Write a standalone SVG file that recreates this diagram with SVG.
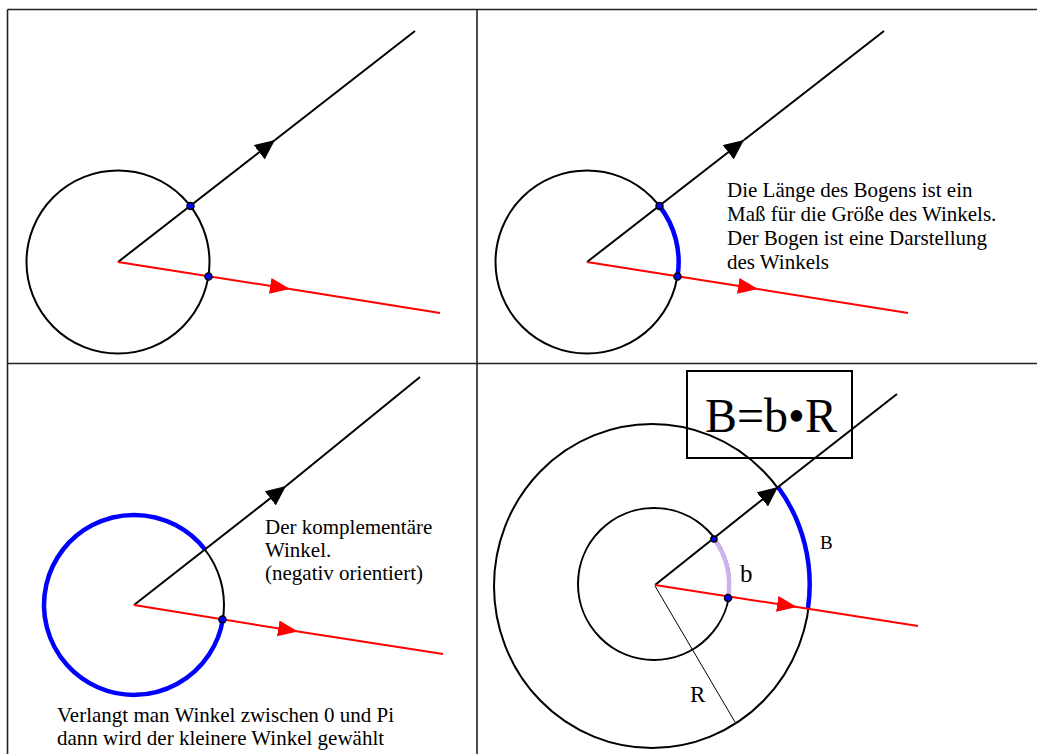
<svg xmlns="http://www.w3.org/2000/svg" width="1037" height="754" viewBox="0 0 1037 754">
<style>
.frame{stroke:#222;stroke-width:1.6;fill:none}
.ray{stroke:#000;stroke-width:2;fill:none}
.red{stroke:#ff0000;stroke-width:2;fill:none}
.circ{stroke:#000;stroke-width:2;fill:none}
.blue{stroke:#0000ff;stroke-width:4.5;fill:none}
.lila{stroke:#cbb2f0;stroke-width:4.5;fill:none}
.dot{fill:#0000ff;stroke:#000;stroke-width:1.5}
.txt{font-family:"Liberation Serif","Times New Roman",serif;font-size:21px;fill:#000}
.thin{stroke:#000;stroke-width:1;fill:none}
</style>
<defs>
<marker id="ahB" markerUnits="userSpaceOnUse" viewBox="0 0 22 18" markerWidth="22" markerHeight="18" refX="20" refY="9" orient="auto"><path d="M0,0 L20,9 L0,18 z" fill="#000"/></marker>
<marker id="ahR" markerUnits="userSpaceOnUse" viewBox="0 0 22 18" markerWidth="22" markerHeight="18" refX="20" refY="9" orient="auto"><path d="M0,1 L20,9 L0,17 z" fill="#ff0000"/></marker>
</defs>
<rect width="1037" height="754" fill="#fff"/>
<g id="table">
<line class="frame" x1="7.5" y1="9.5" x2="1037" y2="9.5"/>
<line class="frame" x1="7.5" y1="9.5" x2="7.5" y2="754"/>
<line class="frame" x1="477" y1="9.5" x2="477" y2="754"/>
<line class="frame" x1="7.5" y1="363.5" x2="1037" y2="363.5"/>
</g>
<g id="panel-top-left">
<circle class="circ" cx="118" cy="262" r="91.5"/>
<line class="ray" x1="118" y1="262" x2="275" y2="140" marker-end="url(#ahB)"/>
<line class="ray" x1="275" y1="140" x2="415" y2="31"/>
<line class="red" x1="118" y1="262" x2="290" y2="289" marker-end="url(#ahR)"/>
<line class="red" x1="290" y1="289" x2="440" y2="313"/>
<circle class="dot" cx="190.5" cy="206" r="3.5"/>
<circle class="dot" cx="208.5" cy="276.5" r="3.5"/>
</g>
<g id="panel-top-right">
<circle class="circ" cx="587" cy="262" r="91.5"/>
<path class="blue" d="M659.5,206 A91.5,91.5 0 0 1 677.5,276.5"/>
<line class="ray" x1="587" y1="262" x2="744" y2="140" marker-end="url(#ahB)"/>
<line class="ray" x1="744" y1="140" x2="884" y2="31"/>
<line class="red" x1="587" y1="262" x2="758" y2="289" marker-end="url(#ahR)"/>
<line class="red" x1="758" y1="289" x2="908" y2="313"/>
<circle class="dot" cx="659.5" cy="206" r="3.5"/>
<circle class="dot" cx="677.5" cy="276.5" r="3.5"/>
<text class="txt" x="727" y="197">Die Länge des Bogens ist ein</text>
<text class="txt" x="727" y="221">Maß für die Größe des Winkels.</text>
<text class="txt" x="727" y="245">Der Bogen ist eine Darstellung</text>
<text class="txt" x="727" y="269">des Winkels</text>
</g>
<g id="panel-bottom-left">
<circle class="circ" cx="134" cy="605" r="90"/>
<path class="blue" stroke-width="5.5" d="M205.1,549.7 A90,90 0 1 0 222.9,619"/>
<line class="ray" x1="134" y1="605" x2="286" y2="486" marker-end="url(#ahB)"/>
<line class="ray" x1="286" y1="486" x2="420" y2="377"/>
<line class="red" x1="134" y1="605" x2="298" y2="631.5" marker-end="url(#ahR)"/>
<line class="red" x1="298" y1="631.5" x2="443" y2="654"/>
<circle class="dot" cx="222.5" cy="619.5" r="3.5"/>
<text class="txt" x="265" y="534">Der komplementäre</text>
<text class="txt" x="265" y="557">Winkel.</text>
<text class="txt" x="265" y="580">(negativ orientiert)</text>
<text class="txt" x="57" y="722">Verlangt man Winkel zwischen 0 und Pi</text>
<text class="txt" x="57" y="745">dann wird der kleinere Winkel gewählt</text>
</g>
<g id="panel-bottom-right">
<ellipse class="circ" cx="652" cy="586" rx="158" ry="162"/>
<circle class="circ" cx="654" cy="584" r="76"/>
<line class="thin" x1="655" y1="586" x2="735" y2="722"/>
<path class="lila" d="M714,539 A76,76 0 0 1 728,598"/>
<path class="blue" d="M778,487 A158,162 0 0 1 808,608"/>
<line class="ray" x1="655" y1="585" x2="778" y2="487" marker-end="url(#ahB)"/>
<line class="ray" x1="778" y1="487" x2="897" y2="394"/>
<line class="red" x1="655" y1="585" x2="797" y2="607" marker-end="url(#ahR)"/>
<line class="red" x1="797" y1="607" x2="918" y2="626"/>
<circle class="dot" cx="714" cy="539" r="3"/>
<circle class="dot" cx="728" cy="598" r="3.5"/>
<rect x="687" y="371" width="165" height="87" fill="none" stroke="#000" stroke-width="2"/>
<text x="705" y="432" style="font-family:'Liberation Serif','Times New Roman',serif;font-size:48px">B=b•R</text>
<text x="820" y="549" style="font-family:'Liberation Serif','Times New Roman',serif;font-size:19px">B</text>
<text x="740" y="582" style="font-family:'Liberation Serif','Times New Roman',serif;font-size:25px">b</text>
<text x="690" y="702" style="font-family:'Liberation Serif','Times New Roman',serif;font-size:23px">R</text>
</g>
</svg>
